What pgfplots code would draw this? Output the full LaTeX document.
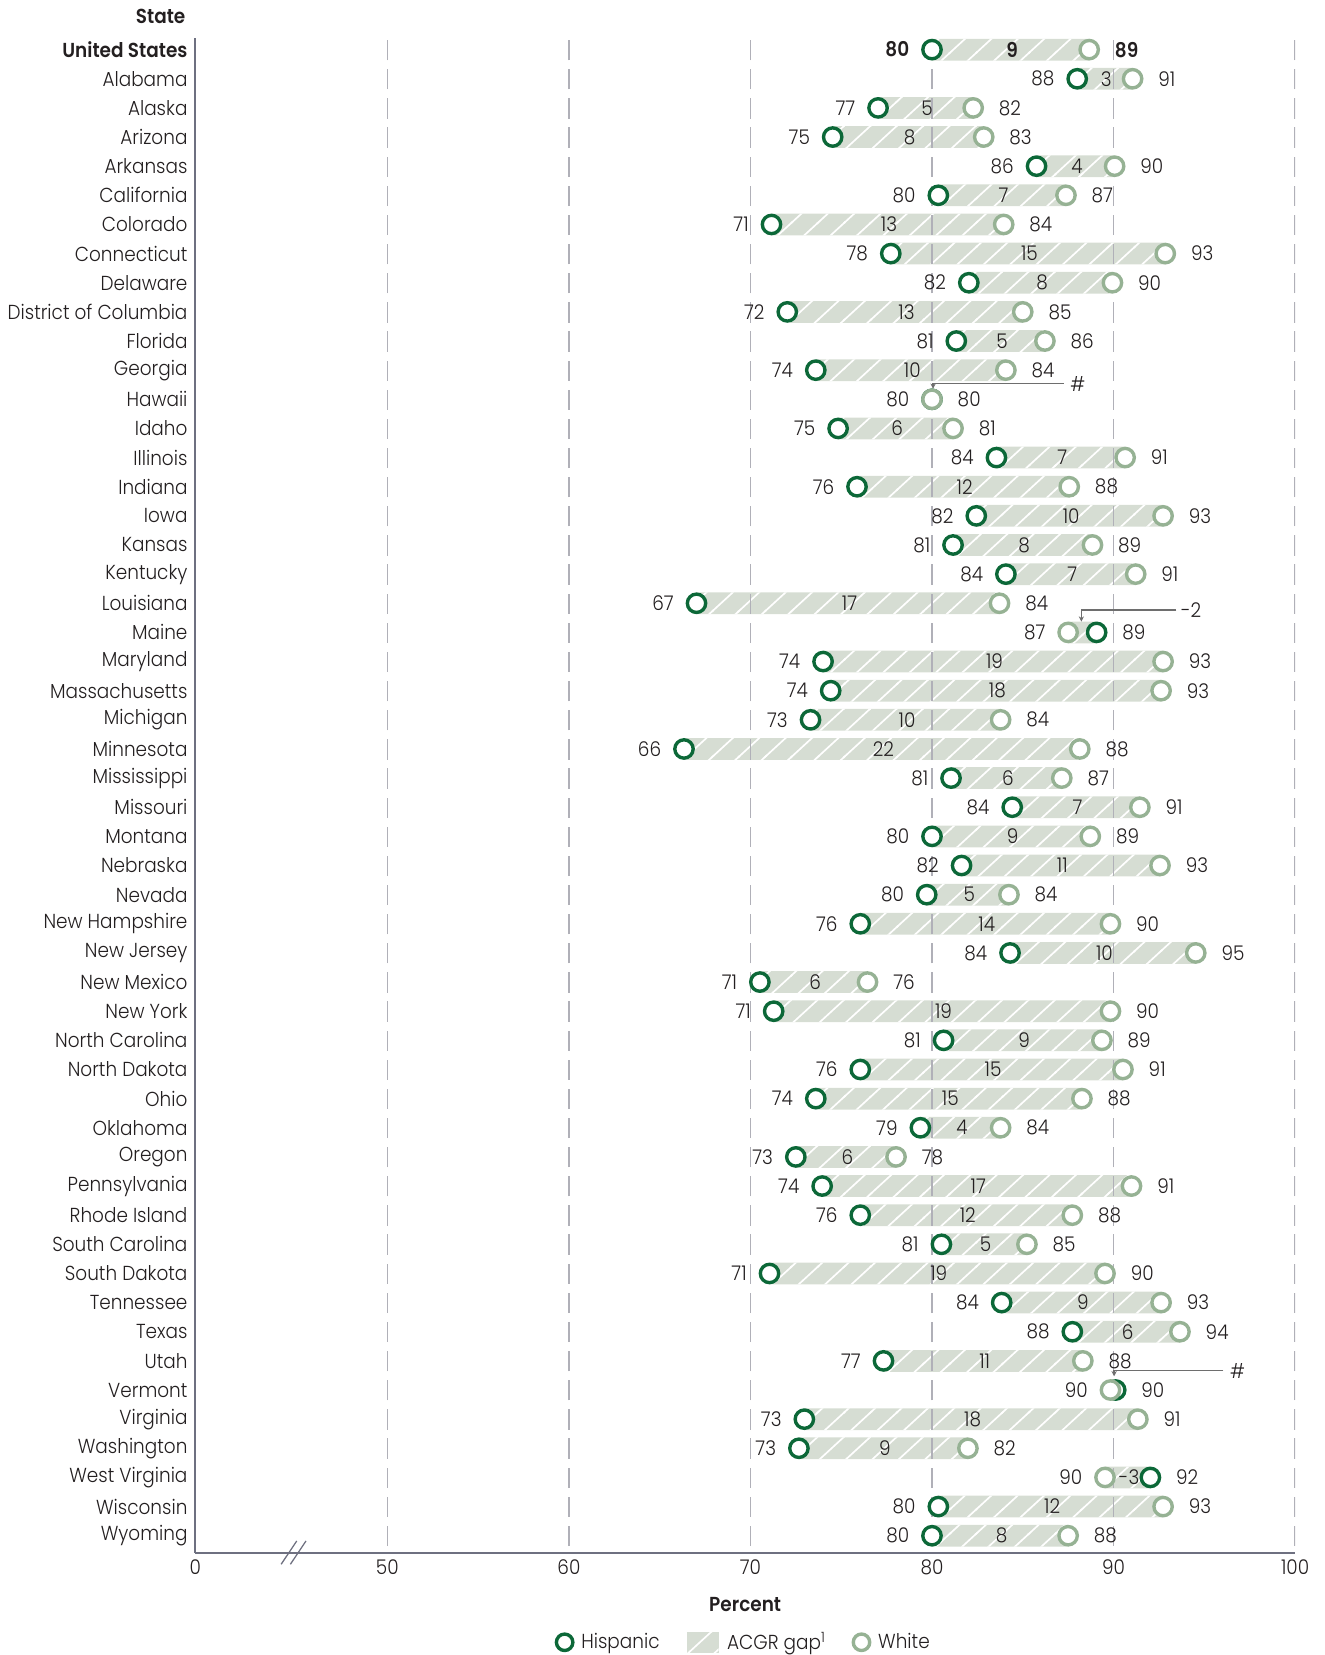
\documentclass[border=0pt]{standalone}
\usepackage{fontspec}
\setmainfont{Poppins}[UprightFont={* Light}, BoldFont={* SemiBold}, FakeStretch=0.91]
\usepackage{pgfplots}
\pgfplotsset{compat=1.18}
\usepackage{pgfplotstable}
\usetikzlibrary{patterns,arrows.meta}
\definecolor{hisp}{RGB}{12,104,56}
\definecolor{whitec}{RGB}{150,178,148}
\definecolor{barfill}{RGB}{214,221,211}
\definecolor{gridc}{RGB}{176,176,184}
\definecolor{axiscol}{RGB}{110,112,128}
\definecolor{textcol}{RGB}{35,31,32}
\definecolor{annot}{RGB}{110,110,110}
\pgfdeclarepatternformonly{acgr}{\pgfqpoint{-1pt}{-1pt}}{\pgfqpoint{13.5pt}{12.5pt}}{\pgfqpoint{12.5pt}{11.5pt}}{%
  \pgfsetlinewidth{0.8pt}%
  \pgfpathmoveto{\pgfqpoint{-0.5pt}{-0.46pt}}%
  \pgfpathlineto{\pgfqpoint{13pt}{11.96pt}}%
  \pgfusepath{stroke}}
\pgfplotstableread{
idx H W lo hi gap
0 80.00 88.66 80 89 9
1 88.00 91.05 88 91 3
2 77.03 82.27 77 82 5
3 74.53 82.85 75 83 8
4 85.76 90.06 86 90 4
5 80.35 87.38 80 87 7
6 71.16 83.95 71 84 13
7 77.73 92.85 78 93 15
8 82.03 89.94 82 90 8
9 72.03 85.00 72 85 13
10 81.34 86.22 81 86 5
11 73.60 84.07 74 84 10
12 80.00 80.00 80 80 {}
13 74.83 81.16 75 81 6
14 83.55 90.64 84 91 7
15 75.87 87.56 76 88 12
16 82.44 92.73 82 93 10
17 81.16 88.84 81 89 8
18 84.07 91.22 84 91 7
19 67.03 83.72 67 84 17
20 89.07 87.50 87 89 {}
21 74.00 92.73 74 93 19
22 74.42 92.62 74 93 18
23 73.31 83.78 73 84 10
24 66.34 88.14 66 88 22
25 81.05 87.15 81 87 6
26 84.42 91.45 84 91 7
27 80.00 88.72 80 89 9
28 81.63 92.56 82 93 11
29 79.71 84.24 80 84 5
30 76.05 89.83 76 90 14
31 84.30 94.53 84 95 10
32 70.52 76.45 71 76 6
33 71.28 89.83 71 90 19
34 80.64 89.36 81 89 9
35 76.05 90.52 76 91 15
36 73.60 88.26 74 88 15
37 79.36 83.78 79 84 4
38 72.50 78.02 73 78 6
39 73.95 90.99 74 91 17
40 76.05 87.73 76 88 12
41 80.52 85.23 81 85 5
42 71.05 89.53 71 90 19
43 83.84 92.62 84 93 9
44 87.73 93.66 88 94 6
45 77.33 88.31 77 88 11
46 90.12 89.83 90 90 {}
47 72.97 91.34 73 91 18
48 72.67 81.98 73 82 9
49 92.03 89.53 90 92 -3
50 80.35 92.73 80 93 12
51 80.00 87.50 80 88 8
}\data
\begin{document}
\fontsize{9.6}{11.5}\selectfont
\begin{tikzpicture}[text=textcol]
\begin{axis}[name=ax, scale only axis, width=521pt, height=717.5pt,
  xmin=39.42, xmax=100, ymin=-0.58, ymax=51.4,
  xbar stacked, bar width=10.3pt,
  axis x line=bottom, axis y line=left,
  axis line style={-, draw=axiscol, line width=0.9pt},
  xtick={39.42,50,60,70,80,90,100}, xticklabels={0,50,60,70,80,90,100},
  ytick={0,...,51},
  yticklabels={Wyoming, Wisconsin, West Virginia, Washington, Virginia, Vermont, Utah, Texas, Tennessee, South Dakota, South Carolina, Rhode Island, Pennsylvania, Oregon, Oklahoma, Ohio, North Dakota, North Carolina, New York, New Mexico, New Jersey, New Hampshire, Nevada, Nebraska, Montana, Missouri, Mississippi, Minnesota, Michigan, Massachusetts, Maryland, Maine, Louisiana, Kentucky, Kansas, Iowa, Indiana, Illinois, Idaho, Hawaii, Georgia, Florida, District of Columbia, Delaware, Connecticut, Colorado, California, Arkansas, Arizona, Alaska, Alabama, {\bfseries United States}},
  major tick length=0pt, tick style={draw=none},
  yticklabel style={text=textcol, inner sep=0pt, xshift=-3.5pt},
  xticklabel style={text=textcol},
]
\pgfplotsinvokeforeach{50,60,70,80,90,100}{
  \draw[gridc, line width=0.6pt, dash pattern=on 9.6pt off 4.2pt, dash phase=10.7pt] (axis cs:#1,-0.58) -- (axis cs:#1,51.4);
}
\addplot[draw=none, fill=none] table[x expr={min(\thisrow{H},\thisrow{W})}, y expr={51-\thisrow{idx}}]{\data};
\addplot[draw=none, fill=barfill, postaction={pattern=acgr, pattern color=white}] table[x expr={abs(\thisrow{H}-\thisrow{W})}, y expr={51-\thisrow{idx}}]{\data};
\end{axis}
\begin{axis}[at={(ax.south west)}, anchor=south west, scale only axis, width=521pt, height=717.5pt,
  xmin=39.42, xmax=100, ymin=-0.58, ymax=51.4, hide axis, clip=false,
  legend style={at={(0.5,-0.0592)}, anchor=center, draw=none, fill=none, legend columns=3,
    /tikz/every even column/.append style={column sep=11pt},
    /tikz/every odd column/.append style={column sep=2pt}},
  legend cell align=left,
]
\addlegendimage{only marks, mark=*, mark size=3.9pt, mark options={draw=hisp, fill=white, line width=1.6pt}}
\addlegendentry{Hispanic}
\addlegendimage{legend image code/.code={\fill[barfill, draw=none] (0pt,-5pt) rectangle (15pt,5pt); \fill[pattern=acgr, pattern color=white, draw=none] (0pt,-5pt) rectangle (15pt,5pt);}}
\addlegendentry{ACGR gap\textsuperscript{1}}
\addlegendimage{only marks, mark=*, mark size=3.9pt, mark options={draw=whitec, fill=white, line width=1.6pt}}
\addlegendentry{White}
% Hispanic circles
\addplot[forget plot, only marks, mark=*, mark size=4.35pt, mark options={draw=hisp, fill=white, line width=1.6pt}]
  table[x=H, y expr={51-\thisrow{idx}}]{\data};
% White circles
\addplot[forget plot, only marks, mark=*, mark size=4.35pt, mark options={draw=whitec, fill=white, line width=1.6pt}]
  table[x=W, y expr={51-\thisrow{idx}}]{\data};
% left labels
\addplot[forget plot, draw=none, mark=none,
  visualization depends on={\thisrow{idx}\as\rowid},
  point meta=explicit symbolic,
  nodes near coords={\llap{\ifdim\rowid pt<0.5pt\bfseries\fi\pgfplotspointmeta}},
  nodes near coords align=horizontal,
  every node near coord/.append style={anchor=west, inner sep=0pt, xshift=-11.5pt, text=textcol}]
  table[x expr={min(\thisrow{H},\thisrow{W})}, y expr={51-\thisrow{idx}}, meta=lo]{\data};
% right labels
\addplot[forget plot, draw=none, mark=none,
  visualization depends on={\thisrow{idx}\as\rowid},
  point meta=explicit symbolic,
  nodes near coords={\rlap{\ifdim\rowid pt<0.5pt\bfseries\fi\pgfplotspointmeta}},
  nodes near coords align=horizontal,
  every node near coord/.append style={anchor=west, inner sep=0pt, xshift=11.5pt, text=textcol}]
  table[x expr={max(\thisrow{H},\thisrow{W})}, y expr={51-\thisrow{idx}}, meta=hi]{\data};
% gap labels
\addplot[forget plot, draw=none, mark=none,
  visualization depends on={\thisrow{idx}\as\rowid},
  point meta=explicit symbolic,
  nodes near coords={\makebox[0pt]{\ifdim\rowid pt<0.5pt\bfseries\fi\pgfplotspointmeta}},
  nodes near coords align=horizontal,
  every node near coord/.append style={anchor=west, inner sep=0pt, text=textcol}]
  table[x expr={(\thisrow{H}+\thisrow{W})/2}, y expr={51-\thisrow{idx}}, meta=gap]{\data};
% annotations
\draw[annot, line width=0.6pt, -{Stealth[length=2.5pt, width=2.5pt]}] (axis cs:87.25,39.54) -- (axis cs:80.06,39.54) -- (axis cs:80.06,39.36);
\node[anchor=west, inner sep=0pt, xshift=3pt] at (axis cs:87.25,39.54) {\#};
\draw[annot, line width=0.6pt, -{Stealth[length=2.5pt, width=2.5pt]}] (axis cs:93.46,31.77) -- (axis cs:88.23,31.77) -- (axis cs:88.23,31.37);
\node[anchor=west, inner sep=0pt, xshift=2pt] at (axis cs:93.46,31.77) {-2};
\draw[annot, line width=0.6pt, -{Stealth[length=2.5pt, width=2.5pt]}] (axis cs:96.05,5.66) -- (axis cs:90.03,5.66) -- (axis cs:90.03,5.47);
\node[anchor=west, inner sep=0pt, xshift=3pt] at (axis cs:96.05,5.66) {\#};
% axis break
\draw[axiscol, line width=0.6pt] (axis cs:44.15,-0.98) -- (axis cs:45.01,-0.18);
\draw[axiscol, line width=0.6pt] (axis cs:44.66,-0.98) -- (axis cs:45.52,-0.18);
% titles
\node[font=\bfseries, inner sep=0pt, yshift=-24.5pt] at (axis description cs:0.5,0) {Percent};
\node[font=\bfseries, anchor=east, inner sep=0pt, xshift=-4.5pt, yshift=10pt] at (axis description cs:0,1) {State};
\end{axis}
\pgfresetboundingbox
\path[use as bounding box] ([xshift=-92.5pt,yshift=-48.5pt]ax.south west) rectangle ([xshift=14pt,yshift=18pt]ax.north east);
\end{tikzpicture}
\end{document}
